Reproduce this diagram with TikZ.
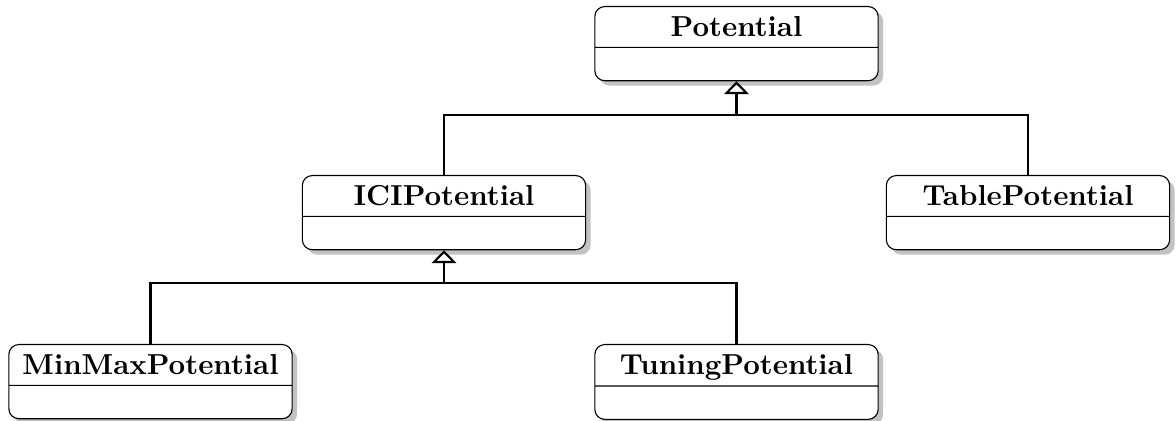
\documentclass[tikz,border=0pt]{standalone}
\usetikzlibrary{shapes.multipart}
\usetikzlibrary{shadows}
\usetikzlibrary{arrows.meta}

\begin{document}
\begin{tikzpicture}[x=0.36pt,y=-0.36pt,
    cls/.style={rectangle split, rectangle split parts=2, draw, line width=0.4pt,
      rounded corners=3.6pt, fill=white, font=\fontsize{10.4pt}{12.5pt}\selectfont\bfseries,
      text width=98pt, align=center, inner xsep=2pt, inner ysep=2pt,
      rectangle split empty part height=7.6pt, rectangle split empty part depth=0pt,
      execute at begin node={\rule[-1.85pt]{0pt}{10.3pt}},
      drop shadow={shadow xshift=1.8pt, shadow yshift=-1.8pt, fill=black!40, opacity=0.6},
      anchor=north},
    inh/.style={line width=0.75pt, -{Triangle[open, length=4.6pt, width=8.8pt]}}]
  \useasboundingbox (0,0) rectangle (1176,421);
  \node[cls] (Pot) at (736.5,6) {Potential};
  \node[cls] (ICI) at (444,175) {ICIPotential};
  \node[cls] (Tab) at (1028,175) {TablePotential};
  \node[cls] (MinMax) at (150.5,344) {MinMaxPotential};
  \node[cls] (Tun) at (736.5,344) {TuningPotential};
  \coordinate (PotBar) at (736.5,115);
  \coordinate (ICIBar) at (444,283);
  \draw[line width=0.75pt] (ICI.north) |- (PotBar) -| (Tab.north);
  \draw[inh] (PotBar) -- (Pot.south);
  \draw[line width=0.75pt] (MinMax.north) |- (ICIBar) -| (Tun.north);
  \draw[inh] (ICIBar) -- (ICI.south);
\end{tikzpicture}
\end{document}
